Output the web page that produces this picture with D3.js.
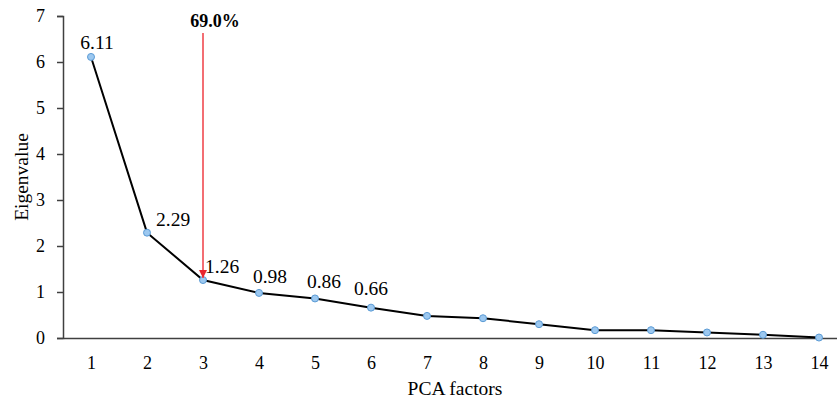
<!DOCTYPE html>
<meta charset="utf-8">
<style>
  body { margin: 0; background: #fff; }
  text { font-family: 'Liberation Serif', 'Times New Roman', serif; fill: #000; }
</style>
<script src="https://d3js.org/d3.v7.min.js"></script>
<div id="chart"></div>
<script>
// data
var factors = [1, 2, 3, 4, 5, 6, 7, 8, 9, 10, 11, 12, 13, 14];
var eigenvalues = [6.11, 2.29, 1.26, 0.98, 0.86, 0.66, 0.48, 0.43, 0.30, 0.17, 0.17, 0.12, 0.07, 0.01];
var labelled = ["6.11", "2.29", "1.26", "0.98", "0.86", "0.66"];
var yTicks = [0, 1, 2, 3, 4, 5, 6, 7];
var cutoffFactor = 3;
var cutoffLabel = "69.0%";

var W = 837, H = 401;
var margin = {top: 16, right: -10, bottom: 63, left: 63};

var svg = d3.select("#chart").append("svg")
  .attr("width", W)
  .attr("height", H);

var x = d3.scaleLinear()
  .domain([0.5, 14.5])
  .range([margin.left, W - margin.right]);

var y = d3.scaleLinear()
  .domain([0, 7])
  .range([H - margin.bottom, margin.top]);

// y axis
var yAxis = svg.append("g")
  .attr("transform", "translate(" + margin.left + ",0)")
  .call(d3.axisLeft(y).tickValues(yTicks).tickSize(6).tickPadding(12).tickFormat(d3.format("d")));
yAxis.select(".domain").attr("stroke", "#404040").attr("stroke-width", 1.5);
yAxis.selectAll(".tick line").attr("stroke", "#404040").attr("stroke-width", 1.5);
yAxis.selectAll("text").style("font-size", "18px").attr("font-family", null);

// x axis (no tick marks)
var xAxis = svg.append("g")
  .attr("transform", "translate(0," + y(0) + ")")
  .call(d3.axisBottom(x).tickValues(factors).tickSize(0).tickPadding(18).tickSizeOuter(0));
xAxis.select(".domain").attr("stroke", "#404040").attr("stroke-width", 1.5);
xAxis.selectAll("text").style("font-size", "18px").attr("font-family", null);

// axis titles
svg.append("text")
  .attr("x", (margin.left + W - margin.right) / 2)
  .attr("y", 395)
  .attr("text-anchor", "middle")
  .style("font-size", "19.5px")
  .text("PCA factors");

svg.append("text")
  .attr("transform", "translate(28," + y(3.5) + ") rotate(-90)")
  .attr("text-anchor", "middle")
  .style("font-size", "19.5px")
  .text("Eigenvalue");

// line + markers
var pts = factors.map(function(f, i) { return {f: f, v: eigenvalues[i]}; });

svg.append("path")
  .datum(pts)
  .attr("fill", "none")
  .attr("stroke", "#000")
  .attr("stroke-width", 2)
  .attr("d", d3.line().x(function(d) { return x(d.f); }).y(function(d) { return y(d.v); }));

svg.selectAll("circle.pt")
  .data(pts)
  .enter().append("circle")
  .attr("class", "pt")
  .attr("cx", function(d) { return x(d.f); })
  .attr("cy", function(d) { return y(d.v); })
  .attr("r", 3.5)
  .attr("fill", "#9cc8f0")
  .attr("stroke", "#5b9bd5")
  .attr("stroke-width", 1);

// value labels (first one above, 2nd & 3rd to the right, rest above-right)
var offs = [[6, -8, "middle"], [9, -7, "start"], [2, -7, "start"], [11, -10, "middle"], [9, -10, "middle"], [0, -13, "middle"]];
svg.selectAll("text.val")
  .data(labelled)
  .enter().append("text")
  .attr("class", "val")
  .attr("x", function(d, i) { return x(factors[i]) + offs[i][0]; })
  .attr("y", function(d, i) { return y(eigenvalues[i]) + offs[i][1]; })
  .attr("text-anchor", function(d, i) { return offs[i][2]; })
  .style("font-size", "19.5px")
  .text(function(d) { return d; });

// red cutoff arrow
svg.append("defs").append("marker")
  .attr("id", "head")
  .attr("viewBox", "0 0 10 10")
  .attr("refX", 10).attr("refY", 5)
  .attr("markerWidth", 5).attr("markerHeight", 5)
  .attr("markerUnits", "strokeWidth")
  .attr("orient", "auto")
  .append("path")
  .attr("d", "M0,0 L10,5 L0,10 z")
  .attr("fill", "#e8262d");

var ci = factors.indexOf(cutoffFactor);
svg.append("line")
  .attr("x1", x(cutoffFactor)).attr("x2", x(cutoffFactor))
  .attr("y1", 33)
  .attr("y2", y(eigenvalues[ci]) - 2)
  .attr("stroke", "#f04a50")
  .attr("stroke-width", 1.6)
  .attr("marker-end", "url(#head)");

svg.append("text")
  .attr("x", x(cutoffFactor) + 12)
  .attr("y", 27)
  .attr("text-anchor", "middle")
  .style("font-size", "18px")
  .style("font-weight", "bold")
  .text(cutoffLabel);
</script>
